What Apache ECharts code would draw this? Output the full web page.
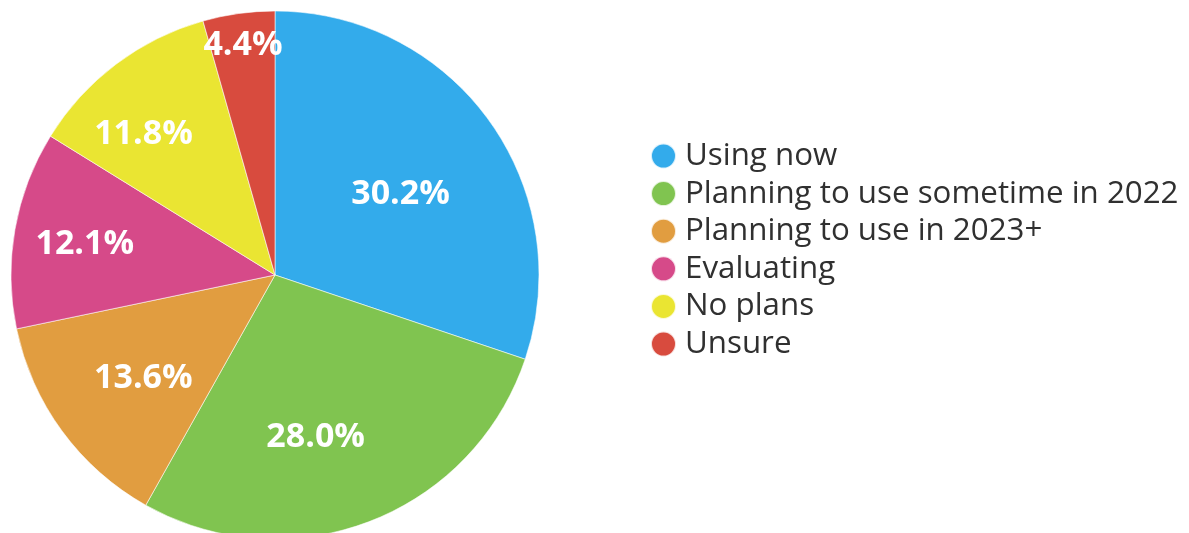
<!DOCTYPE html>
<html><head><meta charset="utf-8">
<script src="https://cdn.jsdelivr.net/npm/echarts@6/dist/echarts.min.js"></script>
<style>html,body{margin:0;padding:0;background:#fff}#c{width:1189px;height:533px}</style>
</head><body><div id="c"></div>
<script>
const categories = ['Using now','Planning to use sometime in 2022','Planning to use in 2023+','Evaluating','No plans','Unsure'];
const values = [30.2, 28.0, 13.6, 12.1, 11.8, 4.4];
const colors = ['#33ABEB','#80C450','#E19D40','#D64A89','#EAE532','#D84B3E'];
// label placement style: distance from centre (fraction of radius) and angular nudge (deg)
const labelRadius = [0.565, 0.635, 0.635, 0.73, 0.73, 0.88];
const labelTurn = [-3, -7, 2, 0.7, 6, 0];

const CX = 275, CY = 275, R = 264;
const chart = echarts.init(document.getElementById('c'));
chart.setOption({
  animation: false,
  color: colors,
  legend: {
    orient: 'vertical', left: 645, top: 135.5,
    icon: 'circle', itemWidth: 25, itemHeight: 25, itemGap: 6.6,
    data: categories,
    textStyle: { fontFamily: 'Open Sans', fontSize: 31.3, color: '#303030', padding: [0,0,0,4] }
  },
  series: [{
    type: 'pie', center: [CX, CY], radius: R, startAngle: 90, clockwise: true,
    itemStyle: { borderColor: 'rgba(255,255,255,0.8)', borderWidth: 0.7 },
    label: { show: true, position: 'inside', formatter: p => p.value.toFixed(1) + '%',
      color: '#fff', fontFamily: 'Open Sans', fontWeight: 'bold', fontSize: 34 },
    labelLine: { show: false },
    labelLayout: function (p) {
      const r = p.labelRect;
      const lx = r.x + r.width / 2, ly = r.y + r.height / 2;
      const a = Math.atan2(-(ly - CY), lx - CX) + labelTurn[p.dataIndex] * Math.PI / 180;
      const k = labelRadius[p.dataIndex] * R;
      return { x: CX + Math.cos(a) * k, y: CY - Math.sin(a) * k, align: 'center', verticalAlign: 'middle' };
    },
    data: categories.map((n, i) => ({ name: n, value: values[i] }))
  }]
});
</script></body></html>
